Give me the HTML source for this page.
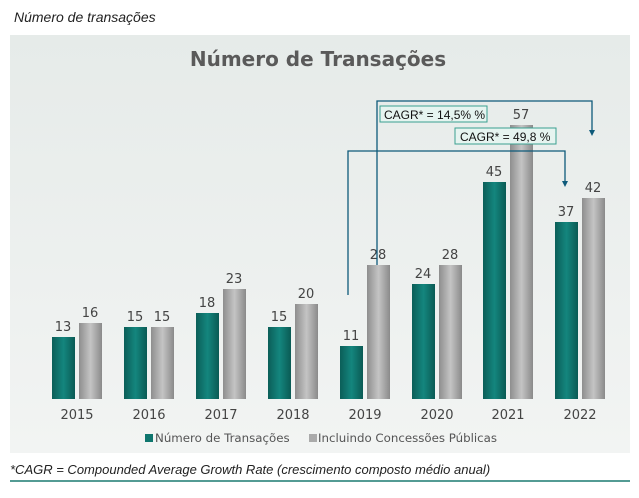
<!DOCTYPE html>
<html><head><meta charset="utf-8"><style>
body{margin:0;width:639px;height:493px;background:#fff;font-family:"Liberation Sans",sans-serif;overflow:hidden;position:relative}
</style></head><body>
<svg width="639" height="493" xmlns="http://www.w3.org/2000/svg" font-family="Liberation Sans, DejaVu Sans, sans-serif">
<defs>
<linearGradient id="bg" x1="0" y1="0" x2="0" y2="1"><stop offset="0" stop-color="#e6ebe9"/><stop offset="1" stop-color="#f2f4f3"/></linearGradient>
<linearGradient id="tl" x1="0" y1="0" x2="1" y2="0"><stop offset="0" stop-color="#0b5e58"/><stop offset="0.5" stop-color="#14867e"/><stop offset="1" stop-color="#0a5a54"/></linearGradient>
<linearGradient id="gr" x1="0" y1="0" x2="1" y2="0"><stop offset="0" stop-color="#8e8e8e"/><stop offset="0.5" stop-color="#c4c4c4"/><stop offset="1" stop-color="#8a8a8a"/></linearGradient>
</defs>
<text x="14" y="22" font-size="14" font-style="italic" fill="#222">Número de transações</text>
<rect x="10" y="35" width="620" height="418" fill="url(#bg)"/>
<text x="318" y="66" font-size="20" font-weight="bold" fill="#5a5a5a" text-anchor="middle" font-family="DejaVu Sans, sans-serif">Número de Transações</text>
<g font-size="13" fill="#444" text-anchor="middle" font-family="DejaVu Sans, sans-serif">
<rect x="52" y="337" width="23" height="62" fill="url(#tl)"/><text x="63" y="331">13</text>
<rect x="79" y="323" width="23" height="76" fill="url(#gr)"/><text x="90" y="317">16</text>
<rect x="124" y="327" width="23" height="72" fill="url(#tl)"/><text x="135" y="321">15</text>
<rect x="151" y="327" width="23" height="72" fill="url(#gr)"/><text x="162" y="321">15</text>
<rect x="196" y="313" width="23" height="86" fill="url(#tl)"/><text x="207" y="307">18</text>
<rect x="223" y="289" width="23" height="110" fill="url(#gr)"/><text x="234" y="283">23</text>
<rect x="268" y="327" width="23" height="72" fill="url(#tl)"/><text x="279" y="321">15</text>
<rect x="295" y="304" width="23" height="95" fill="url(#gr)"/><text x="306" y="298">20</text>
<rect x="340" y="346" width="23" height="53" fill="url(#tl)"/><text x="351" y="340">11</text>
<rect x="367" y="265" width="23" height="134" fill="url(#gr)"/><text x="378" y="259">28</text>
<rect x="412" y="284" width="23" height="115" fill="url(#tl)"/><text x="423" y="278">24</text>
<rect x="439" y="265" width="23" height="134" fill="url(#gr)"/><text x="450" y="259">28</text>
<rect x="483" y="182" width="23" height="217" fill="url(#tl)"/><text x="494" y="176">45</text>
<rect x="510" y="125" width="23" height="274" fill="url(#gr)"/><text x="521" y="119">57</text>
<rect x="555" y="222" width="23" height="177" fill="url(#tl)"/><text x="566" y="216">37</text>
<rect x="582" y="198" width="23" height="201" fill="url(#gr)"/><text x="593" y="192">42</text>
<g font-size="13">
<text x="77" y="419">2015</text><text x="149" y="419">2016</text><text x="221" y="419">2017</text><text x="293" y="419">2018</text>
<text x="365" y="419">2019</text><text x="437" y="419">2020</text><text x="508" y="419">2021</text><text x="580" y="419">2022</text>
</g>
</g>
<g fill="none" stroke="#0e5a7a" stroke-width="1.3">
<path d="M377,265 V101 H592 V131"/>
<path d="M348,295 V151 H565 V182"/>
</g>
<polygon points="589,130 595,130 592,136" fill="#0e5a7a"/>
<polygon points="562,181 568,181 565,187" fill="#0e5a7a"/>
<rect x="380" y="106" width="107" height="16" fill="#e6f4f0" stroke="#3aa090"/>
<text x="384" y="119" font-size="12" fill="#111">CAGR*  = 14,5% %</text>
<rect x="455" y="128" width="101" height="16" fill="#e6f4f0" stroke="#3aa090"/>
<text x="460" y="141" font-size="12" fill="#111">CAGR*  = 49,8 %</text>
<rect x="145" y="434" width="8" height="8" fill="#0f766e"/>
<text x="155" y="442" font-size="11.8" fill="#555" font-family="DejaVu Sans, sans-serif">Número de Transações</text>
<rect x="309" y="434" width="8" height="8" fill="#aaa"/>
<text x="318" y="442" font-size="11.8" fill="#555" font-family="DejaVu Sans, sans-serif">Incluindo Concessões Públicas</text>
<text x="10" y="474" font-size="13" font-style="italic" fill="#222">*CAGR = Compounded Average Growth Rate (crescimento composto médio anual)</text>
<line x1="10" y1="481" x2="630" y2="481" stroke="#1a7a70" stroke-width="1.5"/>
</svg>
</body></html>
